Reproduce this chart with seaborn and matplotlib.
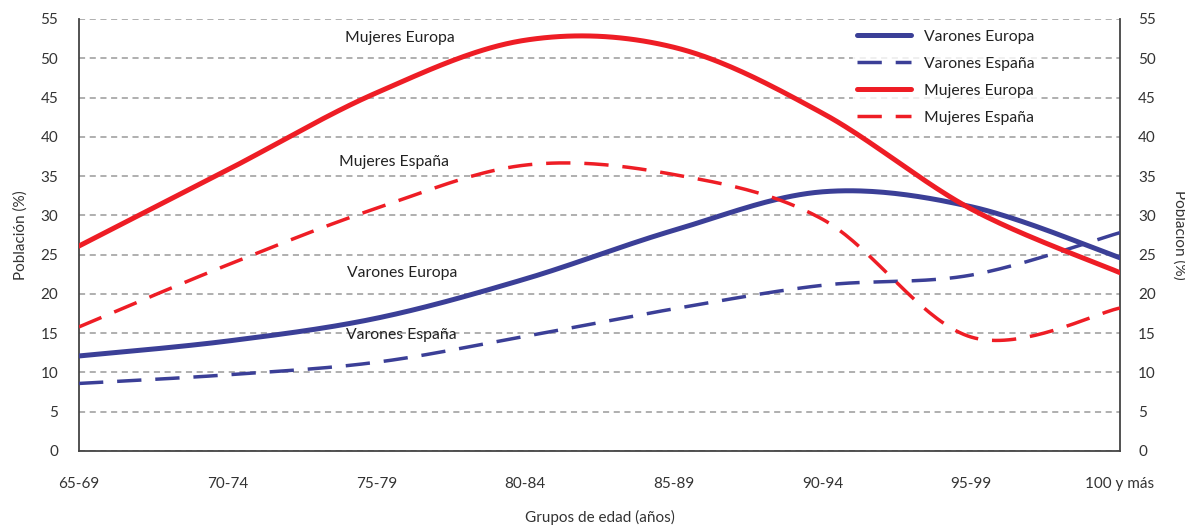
import numpy as np
import pandas as pd
import matplotlib
matplotlib.use("Agg")
from matplotlib import pyplot as plt
import seaborn as sns

grupos = ["65-69", "70-74", "75-79", "80-84", "85-89", "90-94", "95-99", "100 y más"]
varones_europa = [12.1, 14.0, 16.9, 21.9, 28.1, 33.0, 31.1, 24.6]
varones_espana = [8.6, 9.7, 11.3, 14.6, 18.1, 21.1, 22.4, 27.8]
mujeres_europa = [26.1, 35.8, 45.6, 52.3, 51.4, 43.0, 30.8, 22.7]
mujeres_espana = [15.8, 23.7, 30.9, 36.4, 35.2, 29.5, 14.5, 18.2]

AZUL = "#3b3f97"
ROJO = "#ee1d25"


def suavizar(vals, n=40):
    # curva tipo Catmull-Rom, como las líneas suavizadas de Excel
    y = np.asarray(vals, float)
    x = np.arange(len(y), dtype=float)
    px = np.concatenate([[x[0]], x, [x[-1]]])
    py = np.concatenate([[y[0]], y, [y[-1]]])
    xs, ys = [], []
    t = np.linspace(0, 1, n)
    for i in range(len(y) - 1):
        p0 = np.array([px[i + 1], py[i + 1]])
        p3 = np.array([px[i + 2], py[i + 2]])
        p1 = p0 + (p3 - np.array([px[i], py[i]])) / 6
        p2 = p3 - (np.array([px[i + 3], py[i + 3]]) - p0) / 6
        b = ((1 - t) ** 3)[:, None] * p0 + (3 * (1 - t) ** 2 * t)[:, None] * p1 \
            + (3 * (1 - t) * t ** 2)[:, None] * p2 + (t ** 3)[:, None] * p3
        xs.extend(b[:, 0])
        ys.extend(b[:, 1])
    return xs, ys


sns.set_style("white")
plt.rcParams["font.family"] = ["Lato", "DejaVu Sans"]

fig = plt.figure(figsize=(11.85, 5.31), dpi=100)
ax = fig.add_axes([79 / 1185, 1 - 451 / 531, (1120 - 79) / 1185, 432 / 531])

series = [
    ("Varones Europa", varones_europa, AZUL, "-", 3.6),
    ("Varones España", varones_espana, AZUL, (0, (7, 4)), 2.5),
    ("Mujeres Europa", mujeres_europa, ROJO, "-", 3.6),
    ("Mujeres España", mujeres_espana, ROJO, (0, (7, 4)), 2.5),
]
for nombre, vals, color, ls, lw in series:
    xs, ys = suavizar(vals)
    df = pd.DataFrame({"x": xs, "y": ys})
    sns.lineplot(data=df, x="x", y="y", color=color, linestyle=ls, linewidth=lw,
                 label=nombre, ax=ax, sort=False, zorder=3)

ax.set_xlim(0, len(grupos) - 1)
ax.set_ylim(0, 55)
ax.set_yticks(range(0, 56, 5))
ax.set_xticks(range(len(grupos)))
ax.set_xticklabels(grupos)
ax.yaxis.grid(True, color="#9a9a9a", linestyle=(0, (4, 3)), linewidth=1.1)
ax.xaxis.grid(False)
ax.tick_params(axis="both", length=0, labelsize=11, colors="#333333")
ax.tick_params(axis="y", pad=15)
ax.tick_params(axis="x", pad=19)
for s in ["left", "bottom", "right"]:
    ax.spines[s].set_visible(True)
    ax.spines[s].set_color("#444444")
    ax.spines[s].set_linewidth(1.3)
ax.spines["top"].set_visible(False)
ax.set_xlabel("Grupos de edad (años)", fontsize=11, color="#333333", labelpad=13)
ax.set_ylabel("Población (%)", fontsize=11, color="#333333", labelpad=9)

ax2 = ax.twinx()
ax2.set_ylim(0, 55)
ax2.set_yticks(range(0, 56, 5))
ax2.tick_params(axis="y", length=0, labelsize=11, colors="#333333", pad=13)
for s in ax2.spines.values():
    s.set_visible(False)
ax2.set_ylabel("Población (%)", fontsize=11, color="#333333", rotation=270, labelpad=22)

etiquetas = [
    ("Mujeres Europa", 2.16, 52.6),
    ("Mujeres España", 2.12, 36.8),
    ("Varones Europa", 2.17, 22.7),
    ("Varones España", 2.17, 14.8),
]
for txt, x, y in etiquetas:
    ax.text(x, y, txt, ha="center", va="center", fontsize=11.3, color="#222222", zorder=4)

leg = ax.legend(loc="upper right", bbox_to_anchor=(0.929, 1.0), frameon=True,
                fontsize=11.3, handlelength=3.5, handletextpad=0.83, labelspacing=0.82,
                borderpad=0.2)
leg.get_frame().set_facecolor("white")
leg.get_frame().set_edgecolor("white")
leg.set_zorder(5)
for t in leg.get_texts():
    t.set_color("#222222")

fig.savefig("out.png", dpi=100)
